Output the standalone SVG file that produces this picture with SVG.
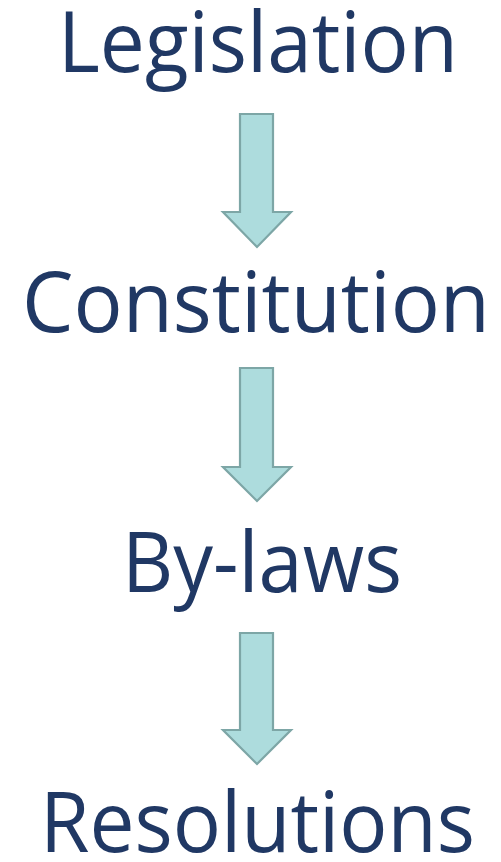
<svg xmlns="http://www.w3.org/2000/svg" width="501" height="862" viewBox="0 0 501 862">
<style>
.t{font-family:"Open Sans","Liberation Sans",sans-serif;font-size:84px;fill:#203864}
.a{fill:#ADDCDD;stroke:#7DA6A6;stroke-width:2.2;stroke-linejoin:miter}
</style>
<rect width="501" height="862" fill="#fff"/>
<g id="connectors">
<polygon class="a" points="240,114 273,114 273,212 291,212 257,247 223,212 240,212"/>
<polygon class="a" points="240,368 273,368 273,467 291,467 257,501 223,467 240,467"/>
<polygon class="a" points="240,633 273,633 273,730 291,730 257,764 223,730 240,730"/>
</g>
<g id="legislation"><text class="t" x="58" y="72" textLength="400" lengthAdjust="spacingAndGlyphs">Legislation</text></g>
<g id="constitution"><text class="t" x="22" y="332" textLength="468" lengthAdjust="spacingAndGlyphs">Constitution</text></g>
<g id="bylaws"><text class="t" x="122" y="592" textLength="280" lengthAdjust="spacingAndGlyphs">By-laws</text></g>
<g id="resolutions"><text class="t" x="40" y="852" textLength="435" lengthAdjust="spacingAndGlyphs">Resolutions</text></g>
</svg>
